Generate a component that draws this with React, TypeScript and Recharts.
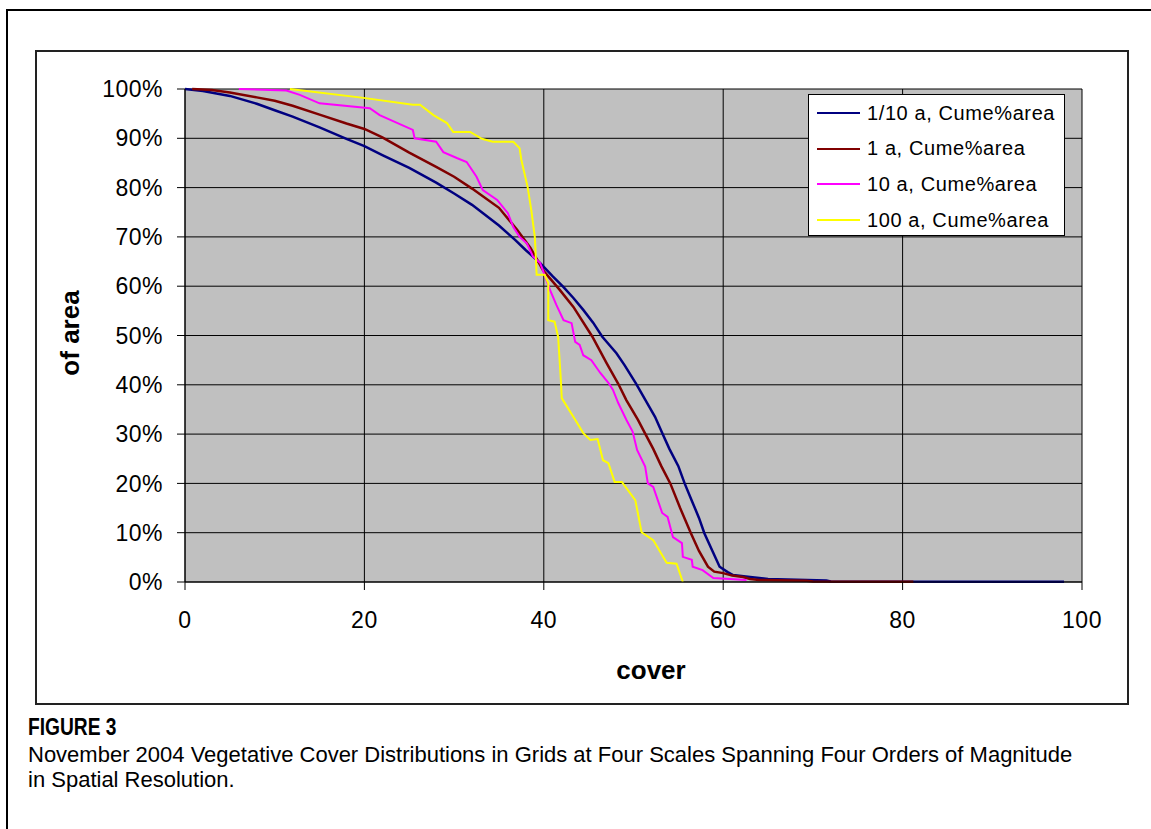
import { LineChart, Line, XAxis, YAxis, CartesianGrid } from 'recharts';

// cover value vs. cumulative % of area
const X_TICKS = [0, 20, 40, 60, 80, 100];
const Y_TICKS = [0, 10, 20, 30, 40, 50, 60, 70, 80, 90, 100];

const tenthAcre: [number, number][] = [
  [0, 100], [2, 99.6], [5, 98.6], [8, 97], [10, 95.7], [12, 94.4], [15, 92.2], [18, 89.9],
  [20, 88.4], [22, 86.6], [25, 84], [28, 81], [30, 78.8], [32, 76.5], [35, 72.3], [36.8, 69.4],
  [38, 67.3], [39.6, 64.7], [41, 62], [42.2, 59.8], [43.3, 57.6], [44.4, 55.2], [45.5, 52.6],
  [46.5, 49.8], [48.1, 46.4], [49, 44], [50.3, 40.2], [51.3, 37], [52.4, 33.5], [53.2, 30.2],
  [54, 27], [55, 23.5], [55.7, 20], [56.5, 16.5], [57.3, 13], [57.9, 9.9], [58.8, 6.3],
  [59.6, 3.1], [60.5, 2], [61.1, 1.4], [63, 1], [65, 0.6], [71.5, 0.3], [72, 0.1], [98, 0.05],
];

const oneAcre: [number, number][] = [
  [0.8, 100], [3, 99.8], [5, 99.3], [8, 98.3], [10, 97.6], [12, 96.6], [15, 94.8], [18, 93],
  [20, 91.9], [22, 90.2], [25, 87.1], [28, 84.2], [30, 82.2], [32, 79.8], [35, 75.9], [37, 71.5],
  [38.5, 67.8], [39.9, 63.3], [41.8, 59.2], [43.3, 55.8], [45.4, 49.8], [47, 44.4], [48.3, 40.2],
  [49.2, 36.9], [50.5, 32.9], [51.3, 30.1], [52.2, 27], [53.1, 23.5], [54.1, 20], [55.2, 15],
  [56.4, 9.9], [57.3, 6.3], [58.3, 3.1], [59, 2.1], [60, 1.8], [61, 1.3], [62.2, 1], [63, 0.6],
  [64, 0.4], [69.3, 0.25], [70, 0.1], [81.2, 0.05],
];

const tenAcre: [number, number][] = [
  [6, 100], [11.3, 99.7], [12.8, 98.8], [15, 97.1], [20.6, 96.1], [21.7, 94.7], [25.4, 91.7],
  [25.6, 90], [28, 89.3], [28.8, 87.2], [30.3, 86], [31.4, 85.2], [32.5, 82.2], [33.2, 79.5],
  [34.8, 77.5], [36, 74.8], [36.6, 72], [37.3, 70], [38.1, 68.7], [38.8, 66], [39.6, 64.7],
  [40.7, 59.2], [41.4, 56.2], [42.2, 53.1], [43.1, 52.5], [43.5, 48.7], [44, 48.1], [44.4, 46],
  [45.3, 45], [46.3, 42.4], [47.2, 40.4], [47.7, 39], [48.3, 36.3], [49.2, 32.9], [49.9, 30.5],
  [50.4, 26.8], [51.3, 23.4], [51.6, 20], [52.2, 19.3], [53.2, 14], [53.8, 13.2], [54.4, 9.1],
  [55.4, 7.9], [55.5, 5.1], [56.5, 4.5], [56.6, 3.1], [57.7, 2.4], [58.9, 0.8], [62.6, 0.4],
];

const hundredAcre: [number, number][] = [
  [11.7, 100], [19.9, 98.2], [25.4, 96.8], [26.2, 96.8], [27.7, 94.7], [29.2, 93.1], [29.9, 91.3],
  [31.8, 91.3], [33.1, 89.9], [34.3, 89.3], [36.6, 89.3], [37.3, 88], [37.5, 85.6], [38.2, 80.1],
  [38.6, 75.5], [39, 70], [39.2, 62.3], [40.1, 62.3], [40.5, 60.6], [40.5, 53.1], [41.2, 52.8],
  [41.6, 49.7], [41.9, 41], [42, 37.3], [43.5, 32.9], [44.4, 30.2], [45.2, 28.8], [46, 29],
  [46.6, 24.7], [47.2, 24.1], [47.9, 20.3], [48.7, 20.3], [50.2, 16.6], [50.9, 10.1], [52.2, 8.5],
  [53.7, 3.9], [54.8, 3.7], [55.5, 0],
];

const SERIES_NAMES = ['1/10 a, Cume%area', '1 a, Cume%area', '10 a, Cume%area', '100 a, Cume%area'];
const SERIES_DATA = [tenthAcre, oneAcre, tenAcre, hundredAcre];
const SERIES_COLORS = ['#000080', '#800000', '#FF00FF', '#FFFF00'];
const SERIES_WIDTHS = [2.5, 2.5, 2, 2];

const FONT = "'Liberation Sans', Arial, sans-serif";

export default function App() {
  const series = SERIES_DATA.map((pts, i) => ({
    name: SERIES_NAMES[i],
    color: SERIES_COLORS[i],
    width: SERIES_WIDTHS[i],
    data: pts.map(([x, y]) => ({ x, y })),
  }));

  return (
    <div style={{ position: 'absolute', left: 0, top: 0, width: 1151, height: 829, overflow: 'hidden', background: '#fff', fontFamily: FONT }}>
      {/* outer figure frame (runs off the right/bottom edge) */}
      <div style={{ position: 'absolute', left: 6, top: 9, width: 1200, height: 900, border: '2px solid #000' }} />
      {/* chart frame */}
      <div style={{ position: 'absolute', left: 35, top: 50, width: 1090, height: 651, border: '2px solid #222', background: '#fff' }} />

      <div style={{ position: 'absolute', left: 0, top: 0 }}>
        <LineChart width={1151} height={829} margin={{ top: 89, right: 69, bottom: 207, left: 85 }}>
          <CartesianGrid stroke="#000" strokeWidth={1} fill="#C0C0C0" fillOpacity={1} />
          <XAxis
            type="number"
            dataKey="x"
            domain={[0, 100]}
            ticks={X_TICKS}
            interval={0}
            height={40}
            tickSize={8}
            tickMargin={22}
            axisLine={{ stroke: '#000' }}
            tickLine={{ stroke: '#000' }}
            tick={{ fill: '#000', fontSize: 23, fontFamily: FONT, letterSpacing: 0.5 }}
            allowDuplicatedCategory={false}
          />
          <YAxis
            type="number"
            domain={[0, 100]}
            ticks={Y_TICKS}
            interval={0}
            width={100}
            tickSize={8}
            tickMargin={14}
            axisLine={{ stroke: '#000' }}
            tickLine={{ stroke: '#000' }}
            tickFormatter={(v: number) => `${v}%`}
            tick={{ fill: '#000', fontSize: 23, fontFamily: FONT, letterSpacing: 0.5 }}
          />
          {series.map(s => (
            <Line
              key={s.name}
              data={s.data}
              dataKey="y"
              name={s.name}
              type="linear"
              stroke={s.color}
              strokeWidth={s.width}
              dot={false}
              activeDot={false}
              isAnimationActive={false}
            />
          ))}
        </LineChart>
      </div>

      {/* axis titles */}
      <div style={{ position: 'absolute', left: 70, top: 333, transform: 'translate(-50%, -50%) rotate(-90deg)', fontSize: 26, fontWeight: 'bold', whiteSpace: 'nowrap' }}>
        of area
      </div>
      <div style={{ position: 'absolute', left: 651, top: 670, transform: 'translate(-50%, -50%)', fontSize: 26, fontWeight: 'bold' }}>
        cover
      </div>

      {/* legend */}
      <div style={{ position: 'absolute', left: 808, top: 94, width: 255, height: 140, border: '1.5px solid #000', background: '#fff' }}>
        {series.map((s, i) => (
          <div key={s.name} style={{ position: 'absolute', left: 8, top: 18 + i * 35.7 - 12, height: 24, display: 'flex', alignItems: 'center' }}>
            <div style={{ width: 43, height: 2, background: s.color }} />
            <span style={{ marginLeft: 7, fontSize: 20, letterSpacing: 0.6, color: '#000', whiteSpace: 'nowrap' }}>{s.name}</span>
          </div>
        ))}
      </div>

      {/* caption */}
      <div style={{ position: 'absolute', left: 28, top: 715, fontSize: 24, lineHeight: '24px', fontWeight: 'bold', transform: 'scaleX(0.8)', transformOrigin: 'left top', whiteSpace: 'nowrap' }}>
        FIGURE 3
      </div>
      <div style={{ position: 'absolute', left: 28, top: 744, fontSize: 22, lineHeight: '22px', whiteSpace: 'nowrap' }}>
        November 2004 Vegetative Cover Distributions in Grids at Four Scales Spanning Four Orders of Magnitude
      </div>
      <div style={{ position: 'absolute', left: 28, top: 769, fontSize: 22, lineHeight: '22px', whiteSpace: 'nowrap' }}>
        in Spatial Resolution.
      </div>
    </div>
  );
}
